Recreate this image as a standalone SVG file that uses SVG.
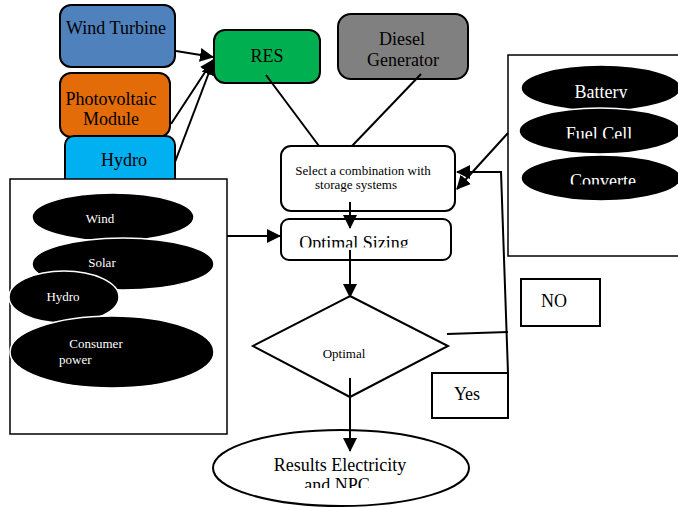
<svg xmlns="http://www.w3.org/2000/svg" width="678" height="508" viewBox="0 0 678 508">
<defs>
<marker id="ahs" markerWidth="14" markerHeight="14" refX="13" refY="7" orient="auto" markerUnits="userSpaceOnUse">
<path d="M0,0 L14,7 L0,14 Z" fill="#000"/>
</marker>
<clipPath id="cBat"><rect x="500" y="60" width="178" height="38"/></clipPath>
<clipPath id="cFuel"><rect x="500" y="110" width="178" height="28.5"/></clipPath>
<clipPath id="cConv"><rect x="500" y="160" width="178" height="24.5"/></clipPath>
<clipPath id="cOpt"><rect x="281" y="219" width="170" height="28.5"/></clipPath>
<clipPath id="cRes"><rect x="213" y="430" width="260" height="58"/></clipPath>
</defs>
<style>
text{font-family:"Liberation Serif","Times New Roman",serif;fill:#000}
.t18{font-size:18px}
.t13{font-size:13px}
.w{fill:#fff}
.box{stroke:#000;stroke-width:2}
.ln{stroke:#000;stroke-width:2;fill:none}
.blk{fill:#000;stroke:#fff;stroke-width:1.5}
</style>
<rect width="678" height="508" fill="#fff"/>

<g id="wind-turbine">
<rect class="box" x="60" y="5" width="115" height="62" rx="11" fill="#4f81bd"/>
<text class="t18" x="116" y="34" text-anchor="middle" font-size="18.5">Wind Turbine</text>
</g>
<g id="photovoltaic">
<rect class="box" x="60" y="73" width="110" height="64" rx="11" fill="#e36c09"/>
<text class="t18" x="111" y="105" text-anchor="middle">Photovoltaic</text>
<text class="t18" x="111" y="125" text-anchor="middle">Module</text>
</g>
<g id="hydro-box">
<rect class="box" x="65" y="136" width="110" height="55" rx="9" fill="#00b0f0"/>
<text class="t18" x="124" y="166" text-anchor="middle">Hydro</text>
</g>
<g id="res">
<rect class="box" x="214" y="30" width="106" height="53" rx="11" fill="#00b050"/>
<text class="t18" x="267" y="62" text-anchor="middle">RES</text>
</g>
<g id="diesel">
<rect class="box" x="338" y="14" width="130" height="65" rx="13" fill="#808080"/>
<text class="t18" x="402" y="45" text-anchor="middle">Diesel</text>
<text class="t18" x="403" y="66" text-anchor="middle">Generator</text>
</g>

<g id="inputs-panel">
<rect x="10" y="179" width="217" height="255" fill="#fff" stroke="#000" stroke-width="1.5"/>
<ellipse class="blk" cx="113" cy="217" rx="81" ry="24"/>
<text class="t13 w" x="100" y="223" text-anchor="middle">Wind</text>
<ellipse class="blk" cx="123" cy="264" rx="91" ry="26"/>
<text class="t13 w" x="102" y="267" text-anchor="middle">Solar</text>
<ellipse class="blk" cx="64" cy="297" rx="55" ry="26"/>
<text class="t13 w" x="63" y="301" text-anchor="middle">Hydro</text>
<ellipse class="blk" cx="112" cy="352" rx="102" ry="36"/>
<text class="t13 w" x="96" y="348" text-anchor="middle">Consumer</text>
<text class="t13 w" x="59" y="364">power</text>
</g>

<g id="storage-panel">
<rect x="508" y="55" width="175" height="201" fill="#fff" stroke="#000" stroke-width="1.5"/>
<ellipse class="blk" cx="601" cy="88" rx="80" ry="23"/>
<text class="t18 w" x="601" y="98" text-anchor="middle" clip-path="url(#cBat)">Battery</text>
<ellipse class="blk" cx="600" cy="131" rx="81" ry="23"/>
<text class="t18 w" x="599" y="140" text-anchor="middle" clip-path="url(#cFuel)">Fuel Cell</text>
<ellipse class="blk" cx="601" cy="178" rx="80" ry="23"/>
<text class="t18 w" x="603" y="187" text-anchor="middle" clip-path="url(#cConv)">Converte</text>
</g>

<g id="select">
<rect class="box" x="281" y="146" width="174" height="65" rx="10" fill="#fff"/>
<text class="t13" x="363" y="175" text-anchor="middle">Select a combination with</text>
<text class="t13" x="356" y="189" text-anchor="middle">storage systems</text>
</g>
<g id="optimal-sizing">
<rect class="box" x="281" y="219" width="170" height="41" rx="8" fill="#fff"/>
<text class="t18" x="354" y="249" text-anchor="middle" clip-path="url(#cOpt)" font-size="19">Optimal Sizing</text>
</g>
<g id="optimal">
<polygon points="350,296 448,346 350,397 253,346" fill="#fff" stroke="#000" stroke-width="2"/>
<text class="t13" x="344" y="358" text-anchor="middle">Optimal</text>
</g>
<g id="results">
<ellipse cx="341" cy="468" rx="128" ry="38" fill="#fff" stroke="#000" stroke-width="2"/>
<text class="t18" x="340" y="471" text-anchor="middle">Results Electricity</text>
<text class="t18" x="337" y="491" text-anchor="middle" clip-path="url(#cRes)">and NPC</text>
</g>
<g id="no">
<rect x="521" y="279" width="79" height="47" fill="#fff" stroke="#000" stroke-width="2"/>
<text class="t18" x="554" y="307" text-anchor="middle">NO</text>
</g>
<g id="yes">
<rect x="432" y="373" width="76" height="45" fill="#fff" stroke="#000" stroke-width="2"/>
<text class="t18" x="467" y="400" text-anchor="middle">Yes</text>
</g>

<g id="connectors">
<line class="ln" x1="176" y1="51" x2="213" y2="57" marker-end="url(#ahs)"/>
<line class="ln" x1="171" y1="124" x2="213" y2="60" marker-end="url(#ahs)"/>
<line class="ln" x1="175" y1="162" x2="213" y2="62" marker-end="url(#ahs)"/>
<line class="ln" x1="266" y1="75" x2="319" y2="146"/>
<line class="ln" x1="421" y1="74" x2="352" y2="146"/>
<line class="ln" x1="350" y1="202" x2="350" y2="228" marker-end="url(#ahs)"/>
<line class="ln" x1="227" y1="236" x2="280" y2="236" marker-end="url(#ahs)"/>
<line class="ln" x1="350" y1="250" x2="350" y2="297" marker-end="url(#ahs)"/>
<line class="ln" x1="350" y1="378" x2="350" y2="451" marker-end="url(#ahs)"/>
<line class="ln" x1="508" y1="133" x2="457" y2="189" marker-end="url(#ahs)"/>
<polyline class="ln" points="447,334 508,332"/>
<polyline class="ln" points="508,373 501,172 457,172" marker-end="url(#ahs)"/>
</g>
</svg>
